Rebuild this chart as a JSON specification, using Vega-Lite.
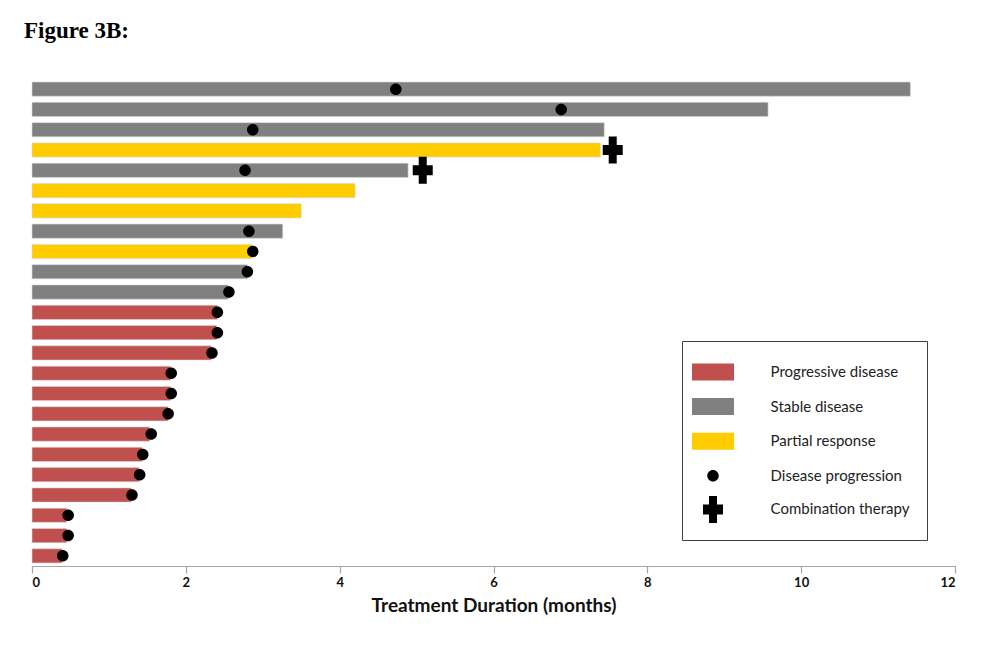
{
  "$schema": "https://vega.github.io/schema/vega-lite/v6.json",
  "width": 923,
  "height": 487,
  "autosize": {"type": "none"},
  "padding": {"left": 32, "top": 79, "right": 53, "bottom": 102},
  "background": "white",
  "title": {
    "text": "Figure 3B:",
    "anchor": "start",
    "frame": "group",
    "font": "Liberation Serif",
    "fontSize": 23,
    "fontWeight": "bold",
    "color": "black",
    "baseline": "alphabetic",
    "offset": 18,
    "dx": -8
  },
  "datasets": {
    "patients": [
      {"id": 1, "duration": 11.42, "cat": "Stable disease"},
      {"id": 2, "duration": 9.57, "cat": "Stable disease"},
      {"id": 3, "duration": 7.44, "cat": "Stable disease"},
      {"id": 4, "duration": 7.39, "cat": "Partial response"},
      {"id": 5, "duration": 4.89, "cat": "Stable disease"},
      {"id": 6, "duration": 4.20, "cat": "Partial response"},
      {"id": 7, "duration": 3.50, "cat": "Partial response"},
      {"id": 8, "duration": 3.26, "cat": "Stable disease"},
      {"id": 9, "duration": 2.86, "cat": "Partial response"},
      {"id": 10, "duration": 2.80, "cat": "Stable disease"},
      {"id": 11, "duration": 2.55, "cat": "Stable disease"},
      {"id": 12, "duration": 2.41, "cat": "Progressive disease"},
      {"id": 13, "duration": 2.40, "cat": "Progressive disease"},
      {"id": 14, "duration": 2.33, "cat": "Progressive disease"},
      {"id": 15, "duration": 1.80, "cat": "Progressive disease"},
      {"id": 16, "duration": 1.80, "cat": "Progressive disease"},
      {"id": 17, "duration": 1.77, "cat": "Progressive disease"},
      {"id": 18, "duration": 1.53, "cat": "Progressive disease"},
      {"id": 19, "duration": 1.43, "cat": "Progressive disease"},
      {"id": 20, "duration": 1.39, "cat": "Progressive disease"},
      {"id": 21, "duration": 1.29, "cat": "Progressive disease"},
      {"id": 22, "duration": 0.45, "cat": "Progressive disease"},
      {"id": 23, "duration": 0.45, "cat": "Progressive disease"},
      {"id": 24, "duration": 0.39, "cat": "Progressive disease"}
    ],
    "events": [
      {"id": 1, "time": 4.73, "cat": "Disease progression"},
      {"id": 2, "time": 6.88, "cat": "Disease progression"},
      {"id": 3, "time": 2.87, "cat": "Disease progression"},
      {"id": 4, "time": 7.55, "cat": "Combination therapy"},
      {"id": 5, "time": 2.77, "cat": "Disease progression"},
      {"id": 5, "time": 5.08, "cat": "Combination therapy"},
      {"id": 8, "time": 2.82, "cat": "Disease progression"},
      {"id": 9, "time": 2.87, "cat": "Disease progression"},
      {"id": 10, "time": 2.80, "cat": "Disease progression"},
      {"id": 11, "time": 2.56, "cat": "Disease progression"},
      {"id": 12, "time": 2.41, "cat": "Disease progression"},
      {"id": 13, "time": 2.41, "cat": "Disease progression"},
      {"id": 14, "time": 2.34, "cat": "Disease progression"},
      {"id": 15, "time": 1.81, "cat": "Disease progression"},
      {"id": 16, "time": 1.81, "cat": "Disease progression"},
      {"id": 17, "time": 1.77, "cat": "Disease progression"},
      {"id": 18, "time": 1.55, "cat": "Disease progression"},
      {"id": 19, "time": 1.44, "cat": "Disease progression"},
      {"id": 20, "time": 1.40, "cat": "Disease progression"},
      {"id": 21, "time": 1.30, "cat": "Disease progression"},
      {"id": 22, "time": 0.47, "cat": "Disease progression"},
      {"id": 23, "time": 0.47, "cat": "Disease progression"},
      {"id": 24, "time": 0.40, "cat": "Disease progression"}
    ]
  },
  "config": {
    "view": {"stroke": null},
    "axis": {"grid": false},
    "legend": {"strokeWidth": 1}
  },
  "encoding": {
    "y": {
      "field": "id",
      "type": "ordinal",
      "sort": "ascending",
      "axis": null,
      "scale": {"paddingInner": 0.3, "paddingOuter": 0.15}
    }
  },
  "layer": [
    {
      "data": {"name": "patients"},
      "mark": {"type": "bar", "stroke": "#d9d9d9", "strokeWidth": 0.6},
      "encoding": {
        "x": {
          "field": "duration",
          "type": "quantitative",
          "scale": {"domain": [0, 12], "nice": false},
          "axis": {
            "values": [0, 2, 4, 6, 8, 10, 12],
            "format": "d",
            "title": "Treatment Duration (months)",
            "titleFont": "Lato",
            "titleFontSize": 19,
            "titleFontWeight": "bold",
            "titleColor": "#111",
            "titlePadding": 7,
            "labelFont": "Lato",
            "labelFontSize": 13,
            "labelFontWeight": "bold",
            "labelColor": "#111",
            "labelPadding": 3,
            "domainColor": "#a6a6a6",
            "domainWidth": 1.2,
            "tickColor": "#a6a6a6",
            "tickSize": 7,
            "tickWidth": 1.2
          }
        },
        "color": {
          "field": "cat",
          "type": "nominal",
          "scale": {
            "domain": ["Progressive disease", "Stable disease", "Partial response", "Disease progression", "Combination therapy"],
            "range": ["#c0504d", "#808080", "#ffcc00", "#000000", "#000000"]
          },
          "legend": {
            "title": null,
            "orient": "none",
            "legendX": 650,
            "legendY": 262,
            "direction": "vertical",
            "strokeColor": "#404040",
            "fillColor": "white",
            "padding": 17,
            "symbolSize": 750.76,
            "symbolStrokeWidth": 0,
            "labelOffset": 43.6,
            "labelFont": "Lato",
            "labelFontSize": 15,
            "labelColor": "#222",
            "labelLimit": 200,
            "rowPadding": 11.6
          }
        }
      }
    },
    {
      "data": {"name": "events"},
      "mark": {"type": "point", "filled": true, "opacity": 1, "size": 750.76, "strokeWidth": 0},
      "encoding": {
        "x": {"field": "time", "type": "quantitative"},
        "color": {"field": "cat", "type": "nominal"},
        "shape": {
          "field": "cat",
          "type": "nominal",
          "scale": {
            "domain": ["Progressive disease", "Stable disease", "Partial response", "Disease progression", "Combination therapy"],
            "range": [
              "M-1.533,-0.62H1.533V0.62H-1.533Z",
              "M-1.533,-0.62H1.533V0.62H-1.533Z",
              "M-1.533,-0.62H1.533V0.62H-1.533Z",
              "M-0.4197,0A0.4197,0.4197,0,1,0,0.4197,0A0.4197,0.4197,0,1,0,-0.4197,0Z",
              "M-0.292,-0.985H0.292V-0.365H0.73V0.365H0.292V0.985H-0.292V0.365H-0.73V-0.365H-0.292Z"
            ]
          }
        }
      }
    }
  ]
}
